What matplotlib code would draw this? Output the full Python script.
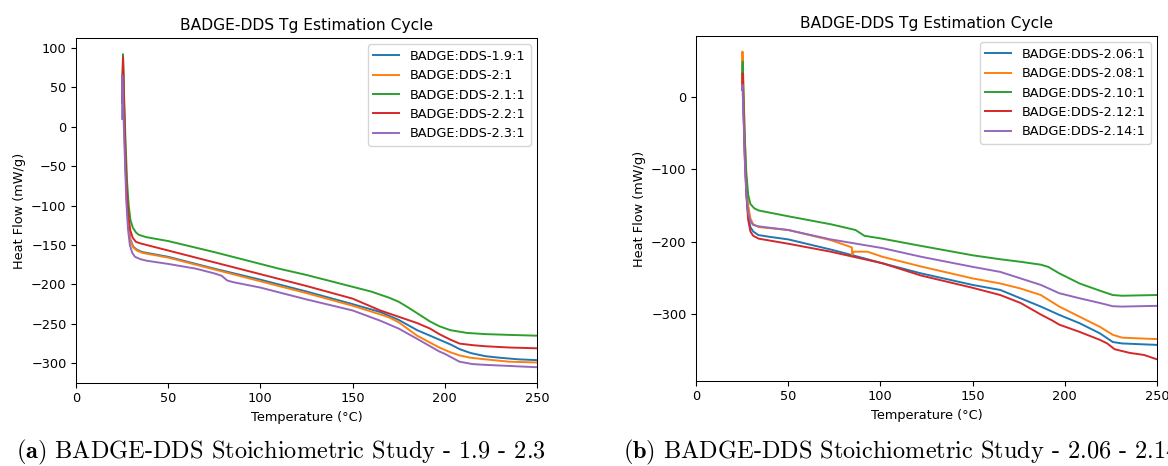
import matplotlib
matplotlib.use("Agg")
import matplotlib.pyplot as plt

# scale of the original subplots (default 6.4x4.8 figures at ~93 dpi)
s = 0.93
plt.rcParams['font.size'] = 10 * s
plt.rcParams['axes.titlesize'] = 12 * s
plt.rcParams['axes.labelsize'] = 10 * s
plt.rcParams['xtick.labelsize'] = 10 * s
plt.rcParams['ytick.labelsize'] = 10 * s
plt.rcParams['legend.fontsize'] = 10 * s
plt.rcParams['lines.linewidth'] = 1.5 * s
plt.rcParams['axes.linewidth'] = 0.8 * s
plt.rcParams['xtick.major.size'] = 3.5 * s
plt.rcParams['ytick.major.size'] = 3.5 * s

# ---- panel (a): 1.9 - 2.3 ----
labels_a = ['BADGE:DDS-1.9:1', 'BADGE:DDS-2:1', 'BADGE:DDS-2.1:1',
            'BADGE:DDS-2.2:1', 'BADGE:DDS-2.3:1']

t_19 = [25.0, 25.5, 26.0, 26.7, 27.5, 28.5, 29.5, 31, 33, 36, 50, 75, 100, 125,
        150, 165, 175, 185, 197, 203, 208, 214, 222, 230, 240, 250]
hf_19 = [30, 75, 20, -40, -90, -125, -143, -152, -156, -159, -165, -180, -194, -209,
         -225, -235, -245, -258, -270, -276, -282, -287, -291, -293, -295, -296]

t_20 = [25.0, 25.5, 26.0, 26.7, 27.5, 28.5, 29.5, 31, 33, 36, 50, 75, 100, 125,
        150, 165, 170, 175, 185, 197, 203, 208, 214, 222, 235, 250]
hf_20 = [30, 85, 25, -40, -92, -127, -145, -153, -157, -160, -166, -181, -196, -211,
         -227, -238, -242, -248, -265, -280, -286, -290, -293, -295, -298, -299]

t_21 = [25.0, 25.5, 26.0, 26.8, 27.7, 28.6, 29.5, 30.8, 32.5, 34, 38, 50, 75, 100,
        110, 125, 150, 160, 170, 175, 180, 186, 192, 197, 203, 212, 222, 235, 250]
hf_21 = [40, 92, 45, -15, -70, -100, -118, -128, -134, -137, -140, -145, -159, -174,
         -180, -188, -203, -209, -217, -222, -229, -238, -247, -253, -258, -261.5,
         -263, -264, -265]

t_22 = [25.0, 25.5, 26.0, 26.7, 27.5, 28.4, 29.4, 30.8, 32.5, 35, 50, 75, 100, 110,
        125, 150, 165, 175, 185, 192, 197, 203, 208, 215, 222, 235, 250]
hf_22 = [30, 88, 35, -25, -80, -112, -131, -141, -146, -148, -157, -172, -187, -193,
         -202, -218, -233, -241, -249, -256, -263, -270, -275, -277, -278.4, -280, -281]

t_23 = [25.0, 25.1, 25.7, 26.5, 27.3, 28.2, 29.2, 30.5, 32, 35, 38.5, 50, 65, 75,
        79, 82, 85, 100, 110, 125, 150, 165, 175, 185, 197, 200, 208, 215, 222, 250]
hf_23 = [10, 65, 20, -40, -95, -130, -150, -160, -165, -168, -170, -174, -180, -186,
         -189, -195, -197, -204, -210, -219, -233, -246, -256, -269, -285, -288, -298,
         -301, -302, -305]

# ---- panel (b): 2.06 - 2.14 ----
labels_b = ['BADGE:DDS-2.06:1', 'BADGE:DDS-2.08:1', 'BADGE:DDS-2.10:1',
            'BADGE:DDS-2.12:1', 'BADGE:DDS-2.14:1']

t_206 = [25.0, 25.3, 25.8, 26.5, 27.3, 28.3, 29.5, 31, 33.8, 40, 50, 73, 85, 101,
         122, 150, 165, 176, 187, 197, 208, 219, 226, 231, 240, 250]
hf_206 = [10, 30, -20, -80, -130, -165, -180, -186, -191, -193.5, -197, -211, -219,
          -230, -244, -260, -267, -278.5, -290, -301.5, -313, -327, -339, -341, -342, -343]

t_208 = [25.0, 25.2, 25.8, 26.5, 27.3, 28.3, 29.5, 31, 34, 50, 73, 84.5, 84.7, 85.5,
         93, 101, 122, 150, 165, 176, 187, 197, 208, 219, 226, 231, 240, 250]
hf_208 = [20, 63, 10, -60, -115, -150, -168, -176, -180, -184, -198, -208, -218.5,
          -214, -214, -221, -234.5, -251, -258, -265, -274, -290, -304, -318, -329,
          -333, -334, -335]

t_210 = [25.0, 25.3, 25.8, 26.5, 27.3, 28.3, 29.5, 31.6, 34, 50, 73, 86.5, 88.6, 91.3,
         101, 122, 150, 165, 176, 187, 191, 197, 208, 219, 226, 231, 240, 250]
hf_210 = [30, 49, 0, -60, -105, -135, -148, -154, -157, -165, -176, -184, -187.5, -192,
          -196, -206, -219, -224.5, -228, -232, -235, -244, -258, -268, -274, -275,
          -274.5, -274]

t_212 = [25.0, 25.3, 25.8, 26.5, 27.3, 28.3, 29.5, 31, 34, 50, 73, 101, 122, 150,
         165, 176, 187, 193, 197, 208, 219, 223, 227, 235, 243, 250]
hf_212 = [10, 33, -20, -85, -135, -170, -186, -192, -196, -203, -214, -230, -247, -264,
          -274, -285, -301, -309, -315, -325, -336, -341, -349, -354, -357, -363]

t_214 = [25.0, 25.2, 25.8, 26.5, 27.3, 28.3, 29.5, 31, 34, 50, 73, 101, 122, 150,
         165, 176, 187, 197, 208, 219, 226, 231, 240, 250]
hf_214 = [10, 17, -30, -90, -135, -160, -172, -177, -179, -184, -197, -209, -221, -235,
          -242, -251, -260, -271.5, -278.5, -285, -289.5, -290, -289.5, -289]

series_a = [(t_19, hf_19), (t_20, hf_20), (t_21, hf_21), (t_22, hf_22), (t_23, hf_23)]
series_b = [(t_206, hf_206), (t_208, hf_208), (t_210, hf_210), (t_212, hf_212),
            (t_214, hf_214)]

fig = plt.figure(figsize=(11.68, 4.66), dpi=100)

ax1 = fig.add_axes([76 / 1168, 83 / 466, 461 / 1168, 345 / 466])
ax2 = fig.add_axes([696 / 1168, 85 / 466, 461 / 1168, 345 / 466])

for ax, series, labels, ylim in [(ax1, series_a, labels_a, (-325, 112.5)),
                                 (ax2, series_b, labels_b, (-393, 84.5))]:
    for (t, hf), lab in zip(series, labels):
        ax.plot(t, hf, label=lab)
    ax.set_xlim(0, 250)
    ax.set_ylim(*ylim)
    ax.set_title('BADGE-DDS Tg Estimation Cycle')
    ax.set_xlabel('Temperature (°C)')
    ax.set_ylabel('Heat Flow (mW/g)')
    ax.legend(loc='upper right')

# captions
fig.text(16 / 1168, 14 / 466, r'$\mathbf{(a)}$ BADGE-DDS Stoichiometric Study - 1.9 - 2.3',
         family='cmr10', math_fontfamily='cm', fontsize=17.5, va='center')
fig.text(623 / 1168, 14 / 466, r'$\mathbf{(b)}$ BADGE-DDS Stoichiometric Study - 2.06 - 2.14',
         family='cmr10', math_fontfamily='cm', fontsize=17.5, va='center')

fig.savefig('out.png', dpi=100)
